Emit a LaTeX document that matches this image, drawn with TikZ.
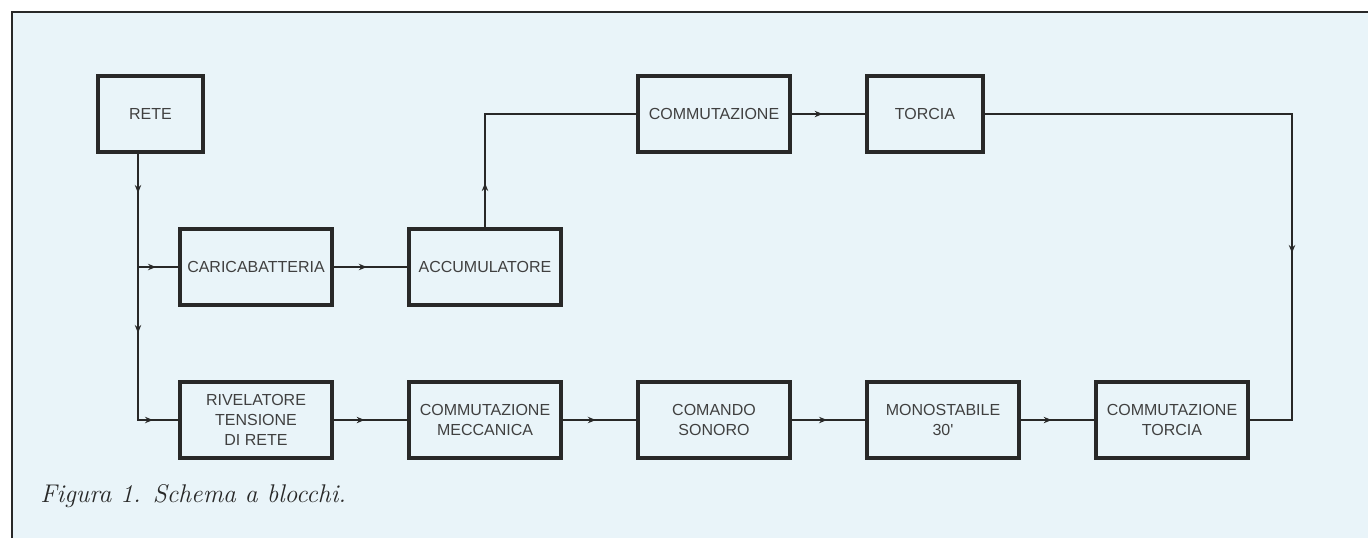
\documentclass[tikz,border=0pt]{standalone}
\usepackage{fontspec}
\newfontfamily\blockfont{Liberation Sans}
\usetikzlibrary{arrows.meta, decorations.markings, positioning}
\definecolor{paper}{RGB}{233,244,249}
\definecolor{ink}{RGB}{40,40,40}

\begin{document}
\begin{tikzpicture}[x=0.5pt, y=-0.5pt,
    node distance=36.5pt and 36.5pt,
    block/.style={draw=ink, line width=2.2pt, minimum width=75.8pt, minimum height=37.8pt,
        inner sep=1pt, align=center, text=black!75, font=\blockfont\fontsize{8}{10}\selectfont},
    link/.style={draw=ink, line width=0.9pt},
    flowmark/.style={postaction={decorate, decoration={markings,
        mark=at position #1 with {\arrow{Stealth[length=4pt, width=3.2pt]}}}}}
]
\useasboundingbox (0,0) rectangle (1368,538);
\fill[white] (0,0) rectangle (1368,538);
\fill[paper] (12,12) rectangle (1368,538);
\draw[ink, line width=1.1pt] (12,538) -- (12,12) -- (1368,12);

\node[block, minimum width=52.3pt] (rete) at (150.5,114) {RETE};
\node[block] (rivel) at (256,420) {RIVELATORE\\TENSIONE\\DI RETE};
\node[block, right=of rivel] (mecc) {COMMUTAZIONE\\MECCANICA};
\node[block, right=of mecc] (comando) {COMANDO\\SONORO};
\node[block, right=of comando] (mono) {MONOSTABILE\\30'};
\node[block, right=of mono] (ctorcia) {COMMUTAZIONE\\TORCIA};
\node[block, above=of rivel] (caric) {CARICABATTERIA};
\node[block, above=of mecc] (accum) {ACCUMULATORE};
\node[block] (commut) at (comando |- rete) {COMMUTAZIONE};
\node[block, minimum width=57.8pt, right=of commut] (torcia) {TORCIA};
\node[anchor=base west, inner sep=0pt, text=ink, font=\fontsize{12.8}{15}\selectfont\itshape]
    (caption) at (40,502) {Figura 1. Schema a blocchi.};

\coordinate (bus) at ([xshift=-6.25pt]rete.south);
\coordinate (turn) at (1292,0);

\draw[link, flowmark=19.5pt, flowmark=89.5pt, flowmark=140.5pt] (bus) |- (rivel.west);
\draw[link, flowmark=0.45] (bus |- caric.west) -- (caric.west);
\draw[link, flowmark=0.45] (caric) -- (accum);
\draw[link, flowmark=22pt] (accum.north) |- (commut.west);
\draw[link, flowmark=0.42] (commut) -- (torcia);
\draw[link, flowmark=223pt] (torcia.east) -| (turn |- ctorcia.east) -- (ctorcia.east);
\draw[link, flowmark=0.42] (rivel) -- (mecc);
\draw[link, flowmark=0.45] (mecc) -- (comando);
\draw[link, flowmark=0.48] (comando) -- (mono);
\draw[link, flowmark=0.42] (mono) -- (ctorcia);
\end{tikzpicture}
\end{document}
